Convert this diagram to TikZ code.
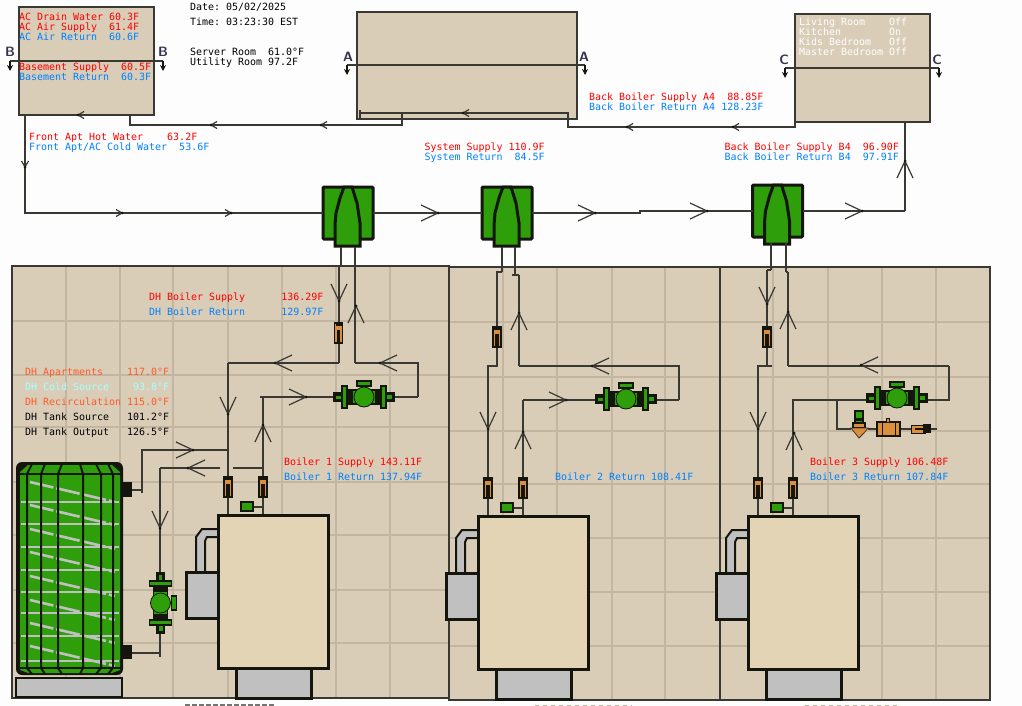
\documentclass[tikz,border=0pt]{standalone}
\usepackage{fontspec}
\setmainfont{DejaVu Sans}
\setmonofont{DejaVu Sans Mono}
\usetikzlibrary{arrows.meta}
\definecolor{bgc}{HTML}{FDFDFD}
\definecolor{tan}{HTML}{D9CDB8}
\definecolor{gridc}{HTML}{C2B6A1}
\definecolor{cream}{HTML}{E2D4B5}
\definecolor{dark}{HTML}{14160E}
\definecolor{pipec}{HTML}{3A3832}
\definecolor{grn}{HTML}{2E9E0A}
\definecolor{org}{HTML}{DB8F3C}
\definecolor{gry}{HTML}{C0C0C0}
\definecolor{hot}{HTML}{FF0000}
\definecolor{cold}{HTML}{0080FF}
\definecolor{coral}{HTML}{FF5A28}
\definecolor{cyn}{HTML}{A8FFFF}
\definecolor{secl}{HTML}{34344E}
\tikzset{
  x=1pt,y=-1pt,
  panelc/.style={fill=tan,draw=pipec,line width=1.8pt},
  boxc/.style={fill=tan,draw=pipec,line width=2pt},
  gridl/.style={draw=gridc,line width=1.4pt},
  pipe/.style={draw=pipec,line width=1.8pt},
  thinpipe/.style={draw=pipec,line width=1.2pt},
  cutl/.style={draw=pipec,line width=1.5pt},
  cutarrow/.style={draw=dark,line width=1.2pt,-{Stealth[length=6pt,width=6pt]}},
  seclabel/.style={font=\sffamily\bfseries\fontsize{13.5}{13.5}\selectfont,text=secl,inner sep=0pt},
  lbl/.style={font=\ttfamily\fontsize{9.97}{10}\selectfont,inner sep=0pt,anchor=base west},
  part/.style={draw=dark,line width=1.7pt},
  heavy/.style={draw=dark,line width=3pt},
  chevs/.pic={\draw[draw=pipec,line width=1.2pt] (-6,-3.5) -- (0,0) -- (-6,3.5);\fill[dark] (0,0) circle (1.5);},
  chevb/.pic={\draw[draw=pipec,line width=1.2pt] (-17,-8) -- (0,0) -- (-17,8);\fill[dark] (0,0) circle (1.5);},
  sepc/.pic={
    \coordinate (-w) at (-25,0); \coordinate (-e) at (25,0);
    \filldraw[fill=grn,heavy,rounded corners=1pt] (-25,-26) rectangle (25,26);
    \filldraw[fill=grn,heavy] (-4,-26) -- (-8,-15) -- (-12,0) -- (-13,12) -- (-13,33) -- (12,33) -- (12,10) -- (9,-10) -- (4,-26) -- cycle;
  },
  sensor/.pic={
    \filldraw[fill=org,part] (-4,-10) rectangle (4,10);
    \fill[dark] (-1.6,-3) rectangle (1.6,10);
    \fill[dark] (-3,-10) rectangle (3,-7.5);
  },
  pumpc/.pic={
    \filldraw[fill=grn,part] (-20,-7) rectangle (20,7);
    \filldraw[fill=dark,part] (-30,-4) rectangle (-20,4);
    \filldraw[fill=dark,part] (20,-4) rectangle (30,4);
    \fill[grn] (-28,-1.5) rectangle (-22,2);
    \fill[grn] (22,-2) rectangle (28,1.5);
    \filldraw[fill=grn,part] (-22,-11) rectangle (-17,11);
    \filldraw[fill=grn,part] (17,-11) rectangle (22,11);
    \fill[dark] (-16,-7) rectangle (-11,7);
    \fill[dark] (11,-7) rectangle (16,7);
    \filldraw[fill=grn,part] (-7,-16) rectangle (7,-11);
    \filldraw[fill=grn,draw=dark,line width=.8pt] (0,0) circle (10);
  },
  boilerc/.pic={
    \filldraw[fill=gry,part,line width=2pt] (-22,57) -- (-22,22) -- (-16,14) -- (0,14) -- (0,22) -- (-11,22) -- (-13,26) -- (-13,57) -- cycle;
    \filldraw[fill=gry,heavy] (-32,57) rectangle (0,103);
    \filldraw[fill=gry,heavy] (18,153) rectangle (93,183);
    \filldraw[fill=cream,heavy] (0,0) rectangle (110.5,153);
    \draw[thinpipe] (35,-8) -- (45,-8);
    \filldraw[fill=grn,part] (23,-13) rectangle (35,-4);
  },
}
\begin{document}
\begin{tikzpicture}
\useasboundingbox (0,0) rectangle (1022,706);
\fill[bgc] (0,0) rectangle (1022,706);

% panels
\filldraw[panelc] (12,266) rectangle (449,698);
\filldraw[panelc] (449,267) rectangle (720,700);
\filldraw[panelc] (720,267) rectangle (990,700);
\foreach \g in {66,120,173,228,282,336,390} \draw[gridl] (\g,267) -- (\g,697);
\foreach \g in {321,375,427,482,535,590,643} \draw[gridl] (13,\g) -- (448,\g);
\foreach \g in {503,557,612,665} \draw[gridl] (\g,268) -- (\g,699);
\foreach \g in {773,828,882,936} \draw[gridl] (\g,268) -- (\g,699);
\foreach \g in {322,377,431,484,538,592,646} {\draw[gridl] (450,\g) -- (719,\g); \draw[gridl] (721,\g) -- (989,\g);}
\draw[panelc,fill=none] (12,266) rectangle (449,698);
\draw[panelc,fill=none] (449,267) rectangle (720,700);
\draw[panelc,fill=none] (720,267) rectangle (990,700);

% fragments at the cut-off lower edge
\draw[draw=pipec!70,line width=1.5pt,dash pattern=on 5pt off 2pt] (185,705.2) -- (275,705.2);
\draw[draw=gridc,line width=1.2pt,dash pattern=on 4pt off 4pt] (535,705.4) -- (632,705.4);
\draw[draw=gridc,line width=1.2pt,dash pattern=on 4pt off 4pt] (805,705.4) -- (900,705.4);

% upper boxes
\node[boxc,draw,minimum width=135pt,minimum height=108pt,inner sep=0pt] (boxB) at (86.5,61) {};
\node[boxc,draw,minimum width=220pt,minimum height=107pt,inner sep=0pt] (boxA) at (467,65.5) {};
\node[boxc,draw,minimum width=135pt,minimum height=108pt,inner sep=0pt] (boxC) at (862.5,68) {};

% section cuts
\foreach \n/\x/\y in {bL/10/61,bR/163/61,aL/347/65,aR/585/65,cL/785/68,cR/939/68}
  \coordinate (\n) at (\x,\y);
\draw[cutl] (bL) -- (bR);
\draw[cutl] (aL) -- (aR);
\draw[cutl,line width=1.2pt] (cL) -- (cR);
\foreach \n in {bL,bR,aL,aR,cL,cR} \draw[cutarrow] (\n) -- ++(0,10);
\node[seclabel] (secBL) at (10,52) {B};
\node[seclabel] (secBR) at (163,52) {B};
\node[seclabel] (secAL) at (348,57) {A};
\node[seclabel] (secAR) at (584,57) {A};
\node[seclabel] (secCL) at (784,60) {C};
\node[seclabel] (secCR) at (937,60) {C};

% separators
\pic (sepA) at (348,213) {sepc};
\pic (sepB) at (507,213) {sepc};
\pic (sepD) at (777.5,211) {sepc};

% named pipe points
\foreach \n/\x/\y in {
  m1/25/115,m2/25/213,m3/640/213,m4/640/211,m5/905/211,m6/905/122,
  r1/795/122,r2/795/127,r3/568/127,r4/568/113,r5/360/113,r6/360/110,r7/360/119,
  r8/402/113,r9/402/125,r10/130/125,r11/130/115,
  a1/341/247,a2/341/266,a3/339/266,a4/339/323,a5/339/343,a6/339/363,a7/228/363,a8/228/477,
  a9/355/247,a10/355/363,a11/418/363,a12/418/397,a13/394/397,
  a14/335/397,a15/260/397,a16/263/397,a17/263/477,
  a18/228/450,a19/142/450,a20/142/493,a21/132/490,a22/142/490,
  a23/220/468,a24/160/468,a25/160/574,a26/233/468,a27/263/468,
  a28/228/497,a29/228/515,a30/263/497,a31/263/515,
  a32/160/633,a33/160/657,a34/132/653,a35/160/653,
  b1/502/247,b2/502/272,b3/497/272,b4/497/327,b5/497/347,b6/497/366,b7/488/366,b8/488/478,b9/488/498,b10/488/516,
  b11/515/247,b12/515/275,b13/512/275,b14/519/275,b15/519/366,b16/679/366,b17/679/400,b18/656/400,
  b19/596/400,b20/523/400,b21/523/478,b22/523/498,b23/523/516,b24/502/366,
  c1/771/243,c2/771/270,c3/767/270,c4/767/327,c5/767/347,c6/767/366,c7/758/366,c8/758/478,c9/758/498,c10/758/516,
  c11/786/243,c12/786/272,c13/788/272,c14/788/366,c15/949/366,c16/949/400,c17/927/400,
  c18/868/400,c19/793/400,c20/793/478,c21/793/498,c22/793/516,c23/772/366,
  d1/837/400,d2/837/429,d3/851/429,d4/868/429,d5/877/429,d6/900/429,d7/911/429,d8/931/429,d9/937/429}
  \coordinate (\n) at (\x,\y);

% pipes, upper run
\draw[pipe] (m1) -- (m2) -- (sepA-w);
\draw[pipe] (sepA-e) -- (sepB-w);
\draw[pipe] (sepB-e) -- (m3) -- (m4) -- (sepD-w);
\draw[pipe] (sepD-e) -- (m5);
\draw[thinpipe,line width=1.5pt] (m5) -- (m6);
\draw[pipe] (r1) -- (r2) -- (r3) -- (r4) -- (r5);
\draw[pipe] (r6) -- (r7);
\draw[thinpipe] (r8) -- (r9) -- (r10) -- (r11);
% pipes, panel 1
\draw[thinpipe] (a1) -- (a2) -- (a3) -- (a4);
\draw[thinpipe] (a5) -- (a6);
\draw[pipe] (a6) -- (a7);
\draw[thinpipe] (a7) -- (a8);
\draw[thinpipe] (a9) -- (a10);
\draw[pipe] (a10) -- (a11) -- (a12);
\draw[thinpipe] (a12) -- (a13);
\draw[thinpipe] (a14) -- (a15);
\draw[pipe] (a16) -- (a17);
\draw[pipe] (a18) -- (a19) -- (a20);
\draw[thinpipe] (a21) -- (a22);
\draw[pipe] (a23) -- (a24);
\draw[thinpipe] (a24) -- (a25);
\draw[pipe] (a26) -- (a27);
\draw[thinpipe] (a28) -- (a29);
\draw[thinpipe] (a30) -- (a31);
\draw[thinpipe] (a32) -- (a33);
\draw[pipe] (a34) -- (a35);
% pipes, panel 2
\draw[thinpipe] (b1) -- (b2);
\draw[pipe] (b2) -- (b3) -- (b4);
\draw[pipe] (b5) -- (b6) -- (b7) -- (b8);
\draw[pipe] (b9) -- (b10);
\draw[pipe] (b11) -- (b12);
\draw[pipe] (b13) -- (b14);
\draw[thinpipe] (b14) -- (b15);
\draw[pipe] (b15) -- (b16) -- (b17);
\draw[thinpipe] (b17) -- (b18);
\draw[thinpipe] (b19) -- (b20);
\draw[pipe] (b20) -- (b21);
\draw[pipe] (b22) -- (b23);
% pipes, panel 3
\draw[thinpipe] (c1) -- (c2);
\draw[pipe] (c2) -- (c3);
\draw[thinpipe] (c3) -- (c4);
\draw[thinpipe] (c5) -- (c6);
\draw[pipe] (c23) -- (c7);
\draw[thinpipe] (c6) -- (c7) -- (c8);
\draw[thinpipe] (c9) -- (c10);
\draw[thinpipe] (c11) -- (c12);
\draw[pipe] (c12) -- (c13);
\draw[thinpipe] (c13) -- (c14);
\draw[pipe] (c14) -- (c15);
\draw[thinpipe] (c15) -- (c16) -- (c17);
\draw[thinpipe] (c18) -- (c19) -- (c20);
\draw[thinpipe] (c21) -- (c22);
\draw[pipe] (d1) -- (d2) -- (d3);
\draw[pipe] (d4) -- (d5);
\draw[pipe] (d6) -- (d7);
\draw[pipe] (d8) -- (d9);

% chevrons
\pic[rotate=180] at (78,115) {chevs};
\pic[rotate=180] at (211,125) {chevs};
\pic[rotate=180] at (321,125) {chevs};
\pic[rotate=180] at (463,113) {chevs};
\pic[rotate=180] at (627,127) {chevs};
\pic[rotate=180] at (733,127) {chevs};
\pic[rotate=-90] at (25,167) {chevs};
\pic at (122,213) {chevs};
\pic at (231,213) {chevs};
\pic at (438,213) {chevb};
\pic at (595,213) {chevb};
\pic at (707,211) {chevb};
\pic at (862,211) {chevb};
\pic[rotate=90] at (905,161) {chevb};
\pic[rotate=-90] at (339,301) {chevb};
\pic[rotate=90] at (356,306) {chevb};
\pic[rotate=180] at (275,363) {chevb};
\pic[rotate=180] at (380,363) {chevb};
\pic[rotate=-90] at (228,414) {chevb};
\pic[rotate=90] at (263,425) {chevb};
\pic at (306,397) {chevb};
\pic at (193,450) {chevb};
\pic[rotate=180] at (188,468) {chevb};
\pic[rotate=-90] at (160,528) {chevb};
\pic[rotate=90] at (519,313) {chevb};
\pic[rotate=180] at (592,366) {chevb};
\pic[rotate=-90] at (488,429) {chevb};
\pic[rotate=90] at (523,432) {chevb};
\pic at (566,400) {chevb};
\pic[rotate=-90] at (767,304) {chevb};
\pic[rotate=90] at (788,312) {chevb};
\pic[rotate=180] at (861,365) {chevb};
\pic[rotate=-90] at (758,429) {chevb};
\pic[rotate=90] at (794,433) {chevb};

% sensors
\foreach \x/\y in {338.5/333,228/487,263/487,497/337,488/488,523/488,767/337,758/488,793/488}
  \pic at (\x,\y) {sensor};

% pumps
\pic at (364,397) {pumpc};
\pic at (626,399) {pumpc};
\pic at (897,398) {pumpc};
\pic[rotate=-90] at (160.5,603) {pumpc};

% boilers
\pic at (218,515) {boilerc};
\pic at (478,516) {boilerc};
\pic at (748,516) {boilerc};

% valve group, panel 3
\filldraw[fill=grn,part] (855,411) rectangle (863,423);
\fill[dark] (855,418) rectangle (863,421);
\filldraw[fill=org,part] (853,423) rectangle (865,428);
\filldraw[fill=org,draw=pipec,line width=.8pt] (851,428) -- (868,428) -- (864,433) -- (859,438) -- (855,433) -- cycle;
\filldraw[fill=org,part] (877,422) rectangle (900,436);
\filldraw[fill=org,part,line width=.8pt] (886.5,418) rectangle (889.5,422);
\draw[dark,line width=1pt] (882,422) -- (882,436) (895,422) -- (895,436);
\filldraw[fill=org,part,line width=1pt] (911,425) rectangle (925,433);
\fill[dark] (923,424) rectangle (931,433);
\fill[dark] (915,428) rectangle (923,430);

% tank
\filldraw[fill=gry,heavy,line width=2.4pt] (16,678) rectangle (122,697);
\fill[dark] (123,482) rectangle (132,497);
\fill[dark] (123,645) rectangle (132,659);
\fill[dark,rounded corners=6pt] (16,462) rectangle (123,675);
\fill[grn] (20,472) -- (28,465) -- (112,465) -- (120,472) -- (120,670) -- (112,673) -- (28,673) -- (20,670) -- cycle;
\foreach \y in {502,524,547,570,592,613,636,661}
  \draw[gry,line width=2.6pt] (21,\y) -- (119,\y);
\foreach \y in {482,505,529,552,576,600,623,646}
  \draw[gry,line width=2.6pt,dash pattern=on 24pt off 3pt] (30,\y) -- (115,\y+20);
\foreach \x/\t in {27/32,41/45,58/62,83/80,101/96,113/108}{
  \draw[dark,line width=2pt] (\t,464) -- (\x,474) -- (\x,668) -- (\t,674);}
\draw[dark,line width=2.4pt] (18,474) -- (121,474);
\draw[dark,line width=2.6pt] (18,668) -- (121,668);
\draw[dark,line width=2.4pt] (25,464) -- (115,464);

% texts
\node[lbl] (date) at (190,10.5) {Date: 05/02/2025};
\node[lbl] (time) at (190,25.5) {Time: 03:23:30 EST};
\node[lbl] (srv) at (190,55.5) {Server Room~~61.0°F};
\node[lbl] (util) at (190,65.5) {Utility Room 97.2F};
\node[lbl,text=hot] (t1) at (19,20.5) {AC Drain Water 60.3F};
\node[lbl,text=hot] (t2) at (19,30.5) {AC Air Supply~~61.4F};
\node[lbl,text=cold] (t3) at (19,40.5) {AC Air Return~~60.6F};
\node[lbl,text=hot] (t4) at (19,70.5) {Basement Supply~~60.5F};
\node[lbl,text=cold] (t5) at (19,80.5) {Basement Return~~60.3F};
\node[lbl,text=hot] (t6) at (29,140.5) {Front Apt Hot Water~~~~63.2F};
\node[lbl,text=cold] (t7) at (29,150.5) {Front Apt/AC Cold Water~~53.6F};
\node[lbl,text=hot] (t8) at (589,100.5) {Back Boiler Supply A4~~88.85F};
\node[lbl,text=cold] (t9) at (589,110.5) {Back Boiler Return A4 128.23F};
\node[lbl,text=hot] (t10) at (424.5,150.5) {System Supply 110.9F};
\node[lbl,text=cold] (t11) at (424.5,160.5) {System Return~~84.5F};
\node[lbl,text=hot] (t12) at (724.5,150.5) {Back Boiler Supply B4~~96.90F};
\node[lbl,text=cold] (t13) at (724.5,160.5) {Back Boiler Return B4~~97.91F};
\node[lbl,text=white] (t14) at (799,25.5) {Living Room~~~~Off};
\node[lbl,text=white] (t15) at (799,35.5) {Kitchen~~~~~~~~On};
\node[lbl,text=white] (t16) at (799,45.5) {Kids Bedroom~~~Off};
\node[lbl,text=white] (t17) at (799,55.5) {Master Bedroom Off};
\node[lbl,text=hot] (t18) at (149,300.5) {DH Boiler Supply~~~~~~136.29F};
\node[lbl,text=cold] (t19) at (149,315.5) {DH Boiler Return~~~~~~129.97F};
\node[lbl,text=coral] (t20) at (25,375.5) {DH Apartments~~~~117.0°F};
\node[lbl,text=cyn] (t21) at (25,390.5) {DH Cold Source~~~~93.8°F};
\node[lbl,text=coral] (t22) at (25,405.5) {DH Recirculation 115.0°F};
\node[lbl] (t23) at (25,420.5) {DH Tank Source~~~101.2°F};
\node[lbl] (t24) at (25,435.5) {DH Tank Output~~~126.5°F};
\node[lbl,text=hot] (t25) at (284,465.5) {Boiler 1 Supply 143.11F};
\node[lbl,text=cold] (t26) at (284,480.5) {Boiler 1 Return 137.94F};
\node[lbl,text=cold] (t27) at (555,480.5) {Boiler 2 Return 108.41F};
\node[lbl,text=hot] (t28) at (810,465.5) {Boiler 3 Supply 106.48F};
\node[lbl,text=cold] (t29) at (810,480.5) {Boiler 3 Return 107.84F};
\end{tikzpicture}
\end{document}
